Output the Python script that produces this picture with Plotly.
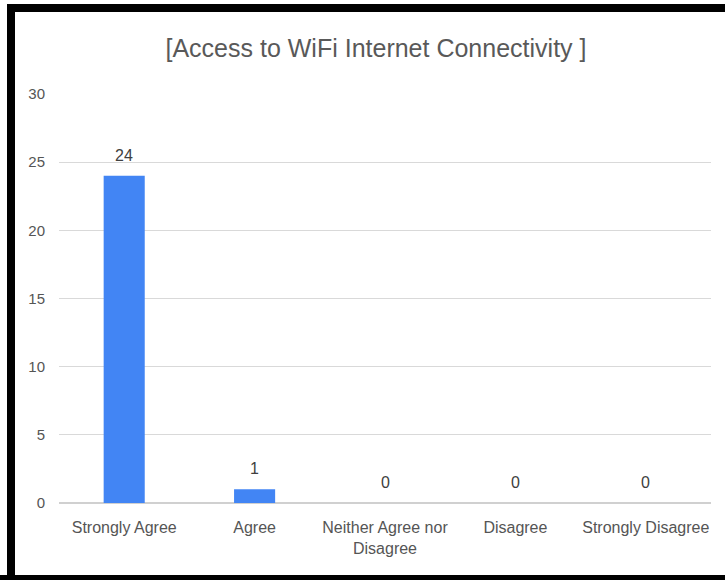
import plotly.graph_objects as go

# Survey responses
categories = ["Strongly Agree", "Agree", "Neither Agree nor<br>Disagree", "Disagree", "Strongly Disagree"]
counts = [24, 1, 0, 0, 0]
y_ticks = [0, 5, 10, 15, 20, 25, 30]

W, H = 725, 580
ML, MR, MT, MB = 59, 14, 94, 77
PW, PH = W - ML - MR, H - MT - MB

BAR_COLOR = "#4285F4"
FONT = "Liberation Sans, Arial, sans-serif"


def px_x(px):
    return (px - ML) / PW


def px_y(py):
    return (H - MB - py) / PH


fig = go.Figure(
    go.Bar(
        x=categories,
        y=counts,
        marker=dict(color=BAR_COLOR, line=dict(width=0)),
        hoverinfo="x+y",
    )
)

# value labels above each bar
for cat, val in zip(categories, counts):
    fig.add_annotation(
        x=cat, y=val, text=str(val), showarrow=False,
        yanchor="bottom", yshift=10,
        font=dict(family=FONT, size=16, color="#404040"),
    )

# dark frame around the chart (left, top, bottom edges)
frame = [
    (7, 4, 15, 580),
    (7, 4, 725, 12),
    (0, 575, 725, 580),
]
for x0, y0, x1, y1 in frame:
    fig.add_shape(
        type="rect", xref="paper", yref="paper",
        x0=px_x(x0), x1=px_x(x1), y0=px_y(y1), y1=px_y(y0),
        fillcolor="#000000", line=dict(width=0), layer="above",
    )

fig.update_layout(
    width=W, height=H,
    margin=dict(l=ML, r=MR, t=MT, b=MB, pad=0),
    paper_bgcolor="white", plot_bgcolor="white",
    bargap=0.685,
    showlegend=False,
    title=dict(
        text="[Access to WiFi Internet Connectivity ]",
        x=px_x(376), xref="paper", xanchor="center",
        y=1 - 48 / H, yref="container", yanchor="middle",
        font=dict(family=FONT, size=25, color="#595959"),
    ),
    xaxis=dict(
        showgrid=False, showline=False, zeroline=False,
        ticks="outside", ticklen=10, tickcolor="rgba(0,0,0,0)",
        tickfont=dict(family=FONT, size=16, color="#555555"),
    ),
    yaxis=dict(
        range=[0, 30], tickvals=y_ticks,
        showgrid=True, gridcolor="#d9d9d9", gridwidth=1,
        zeroline=True, zerolinecolor="#d0d0d0", zerolinewidth=1.5,
        showline=False,
        ticks="outside", ticklen=10, tickcolor="rgba(0,0,0,0)",
        tickfont=dict(family=FONT, size=15, color="#555555"),
    ),
)

fig.write_html("out.html")
